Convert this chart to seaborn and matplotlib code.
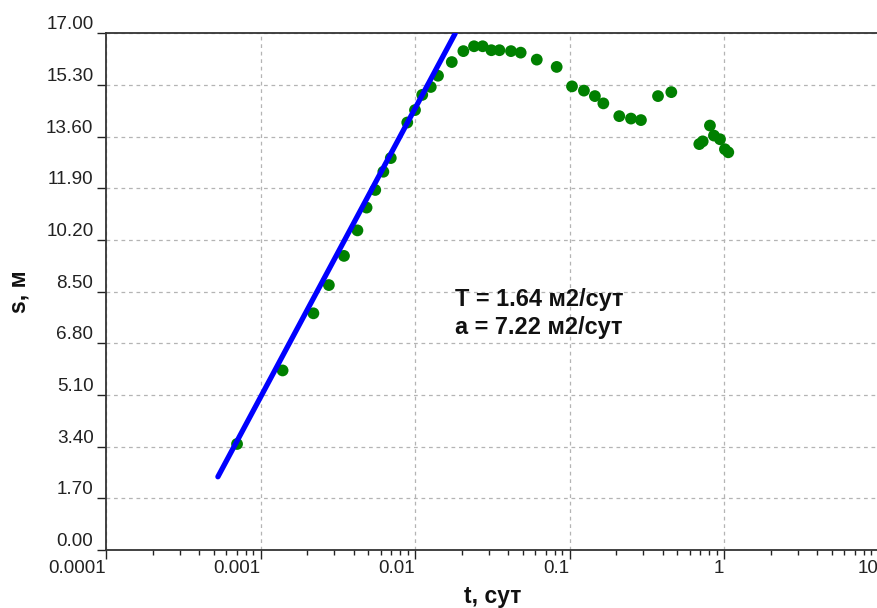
import matplotlib
matplotlib.use("Agg")
import matplotlib.pyplot as plt
import numpy as np
import pandas as pd
import seaborn as sns
from matplotlib.ticker import FixedLocator, LogLocator, NullFormatter

# Observed drawdown data
t_obs = [0.000705, 0.00139, 0.00220, 0.00277, 0.00347, 0.00424, 0.00486, 0.00553,
         0.00624, 0.00697, 0.00891, 0.0100, 0.01114, 0.01265, 0.01409, 0.0173,
         0.02056, 0.0241, 0.0274, 0.0312, 0.0352, 0.0418, 0.0483, 0.0614, 0.0826,
         0.1038, 0.124, 0.146, 0.1656, 0.210, 0.250, 0.290, 0.374, 0.456,
         0.692, 0.728, 0.811, 0.861, 0.942, 1.014, 1.066]
s_obs = [3.49, 5.91, 7.79, 8.72, 9.68, 10.52, 11.27, 11.85,
         12.45, 12.90, 14.07, 14.48, 14.98, 15.24, 15.61, 16.06,
         16.42, 16.58, 16.58, 16.45, 16.45, 16.42, 16.37, 16.14, 15.90,
         15.26, 15.12, 14.94, 14.70, 14.28, 14.20, 14.15, 14.94, 15.07,
         13.36, 13.45, 13.97, 13.64, 13.52, 13.19, 13.09]

# Straight-line (Cooper-Jacob) fit
t_fit = [0.00053, 0.0182]
s_fit = [2.41, 17.0]

y_ticks = [0.0, 1.7, 3.4, 5.1, 6.8, 8.5, 10.2, 11.9, 13.6, 15.3, 17.0]
x_ticks = [0.0001, 0.001, 0.01, 0.1, 1, 10]
x_tick_labels = ["0.0001", "0.001", "0.01", "0.1", "1", "10"]
annotation_lines = ["T = 1.64 м2/сут", "a = 7.22 м2/сут"]

obs = pd.DataFrame({"t": t_obs, "s": s_obs})
fit = pd.DataFrame({"t": t_fit, "s": s_fit})

sns.set_style("white")
plt.rcParams["font.family"] = ["Liberation Sans", "DejaVu Sans"]

fig = plt.figure(figsize=(8.78, 6.08), dpi=100)
W, H = 878, 608
left, right, top, bottom = 106, 878.5, 33.5, 550
ax = fig.add_axes([left / W, 1 - bottom / H, (right - left) / W, (bottom - top) / H])

sns.scatterplot(data=obs, x="t", y="s", ax=ax, color="#008000", s=72,
                edgecolor="none", zorder=3, legend=False)
sns.lineplot(data=fit, x="t", y="s", ax=ax, color="#0000ff", linewidth=3.8,
             sort=False, estimator=None, zorder=4, legend=False)

ax.set_xscale("log")
ax.set_xlim(0.0001, 10)
ax.set_ylim(0, 17)

ax.xaxis.set_major_locator(FixedLocator(x_ticks))
ax.set_xticklabels(x_tick_labels, ha="right")
ax.xaxis.set_minor_locator(LogLocator(base=10, subs=np.arange(2, 10), numticks=20))
ax.xaxis.set_minor_formatter(NullFormatter())
ax.yaxis.set_major_locator(FixedLocator(y_ticks))
ax.set_yticklabels([f"{v:.2f}" for v in y_ticks], va="bottom")

ax.tick_params(axis="x", which="both", bottom=True, top=False)
ax.tick_params(axis="y", which="both", left=True, right=False)
ax.tick_params(axis="both", which="major", direction="out", length=6.5, width=1.0,
               color="#222222", labelsize=13.6, labelcolor="#222222")
ax.tick_params(axis="x", which="major", pad=1.0)
ax.tick_params(axis="y", which="major", pad=2.5)
ax.tick_params(axis="x", which="minor", direction="out", length=3.5, width=1.0,
               color="#222222")

ax.grid(True, which="major", color="#b4b4b4", linestyle=(0, (3, 3)), linewidth=0.9)
ax.set_axisbelow(True)

for side in ["left", "bottom", "top"]:
    ax.spines[side].set_color("#333333")
    ax.spines[side].set_linewidth(1.3)
ax.spines["right"].set_visible(False)

ax.set_xlabel("t, сут", fontsize=16.5, fontweight="bold", color="#111111")
ax.set_ylabel("s, м", fontsize=16.5, fontweight="bold", color="#111111")
ax.xaxis.set_label_coords(0.5, -(597 - bottom) / (bottom - top))
ax.xaxis.label.set_va("center")
ax.yaxis.set_label_coords(-(106 - 19) / (right - left), 0.5)
ax.yaxis.label.set_va("center")

ax.text(0.0182, 8.23, annotation_lines[0], fontsize=16.9, fontweight="bold",
        color="#111111", va="center", ha="left")
ax.text(0.0182, 7.31, annotation_lines[1], fontsize=16.9, fontweight="bold",
        color="#111111", va="center", ha="left")

fig.savefig("out.png", dpi=100)
